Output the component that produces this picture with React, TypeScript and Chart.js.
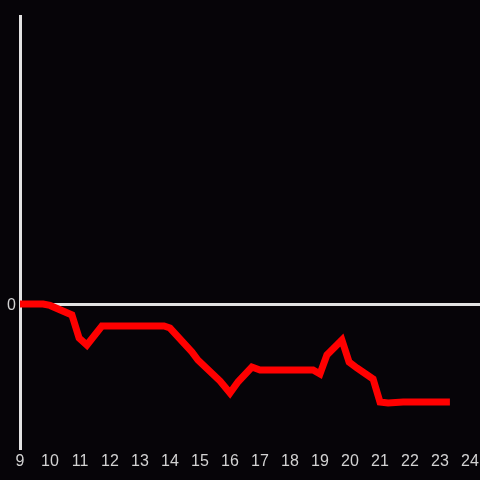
import React, { useEffect, useRef } from "react";
import { Chart, registerables } from "chart.js";

Chart.register(...registerables);

const hours: number[] = [
  9, 9.77, 10.0, 10.73, 10.97, 11.23, 11.73, 13.8, 14.0, 14.73, 14.93, 15.67, 16.0, 16.27,
  16.73, 17.0, 18.77, 19.0, 19.23, 19.73, 19.97, 20.23, 20.77, 21.0, 21.27, 21.77, 23.33,
];
const values: number[] = [
  0, 0, -0.01, -0.076, -0.236, -0.285, -0.153, -0.153, -0.167, -0.333, -0.389, -0.535, -0.618,
  -0.54, -0.438, -0.458, -0.458, -0.486, -0.354, -0.25, -0.403, -0.444, -0.521, -0.681, -0.688,
  -0.681, -0.681,
];
const xTickLabels: number[] = [9, 10, 11, 12, 13, 14, 15, 16, 17, 18, 19, 20, 21, 22, 23, 24];
const yTickValues: number[] = [0];

const BG = "#060408";
const AXIS = "#e2e2e2";
const TEXT = "#d2d2d2";

export default function App() {
  const ref = useRef<HTMLCanvasElement | null>(null);

  useEffect(() => {
    document.body.style.margin = "0";
    document.body.style.background = BG;
    const canvas = ref.current;
    if (!canvas) return;
    const chart = new Chart(canvas, {
      type: "line",
      data: {
        datasets: [
          {
            data: hours.map((h, i) => ({ x: h, y: values[i] })),
            borderColor: "#ff0000",
            borderWidth: 7,
            pointRadius: 0,
            tension: 0,
            fill: false,
          },
        ],
      },
      options: {
        animation: false,
        responsive: false,
        maintainAspectRatio: false,
        layout: { padding: { top: 16, left: 0, right: 0, bottom: 0 } },
        plugins: { legend: { display: false }, tooltip: { enabled: false } },
        scales: {
          x: {
            type: "linear",
            min: 9,
            max: 24 + 1 / 3,
            afterBuildTicks: (scale: any) => {
              scale.ticks = xTickLabels.map((v) => ({ value: v }));
            },
            afterFit: (scale: any) => {
              scale.height = 32;
              scale.paddingLeft = 0;
              scale.paddingRight = 0;
            },
            grid: { display: false, drawTicks: false },
            border: { display: false },
            ticks: {
              color: TEXT,
              padding: 4,
              maxRotation: 0,
              autoSkip: false,
              font: { family: "'Liberation Sans', Arial, sans-serif", size: 16 },
              callback: (v: any) => String(v),
            },
          },
          y: {
            type: "linear",
            min: -1,
            max: 2,
            afterBuildTicks: (scale: any) => {
              scale.ticks = yTickValues.map((v) => ({ value: v }));
            },
            afterFit: (scale: any) => {
              scale.width = 20;
              scale.paddingTop = 0;
              scale.paddingBottom = 0;
            },
            grid: { color: AXIS, lineWidth: 3, drawTicks: false },
            border: { display: true, color: AXIS, width: 3 },
            ticks: {
              color: TEXT,
              padding: 4,
              labelOffset: 2,
              font: { family: "'Liberation Sans', Arial, sans-serif", size: 16 },
              callback: (v: any) => String(v),
            },
          },
        },
      },
    });
    return () => chart.destroy();
  }, []);

  return (
    <div style={{ width: 480, height: 480, background: BG }}>
      <canvas ref={ref} width={480} height={480} style={{ display: "block" }} />
    </div>
  );
}
